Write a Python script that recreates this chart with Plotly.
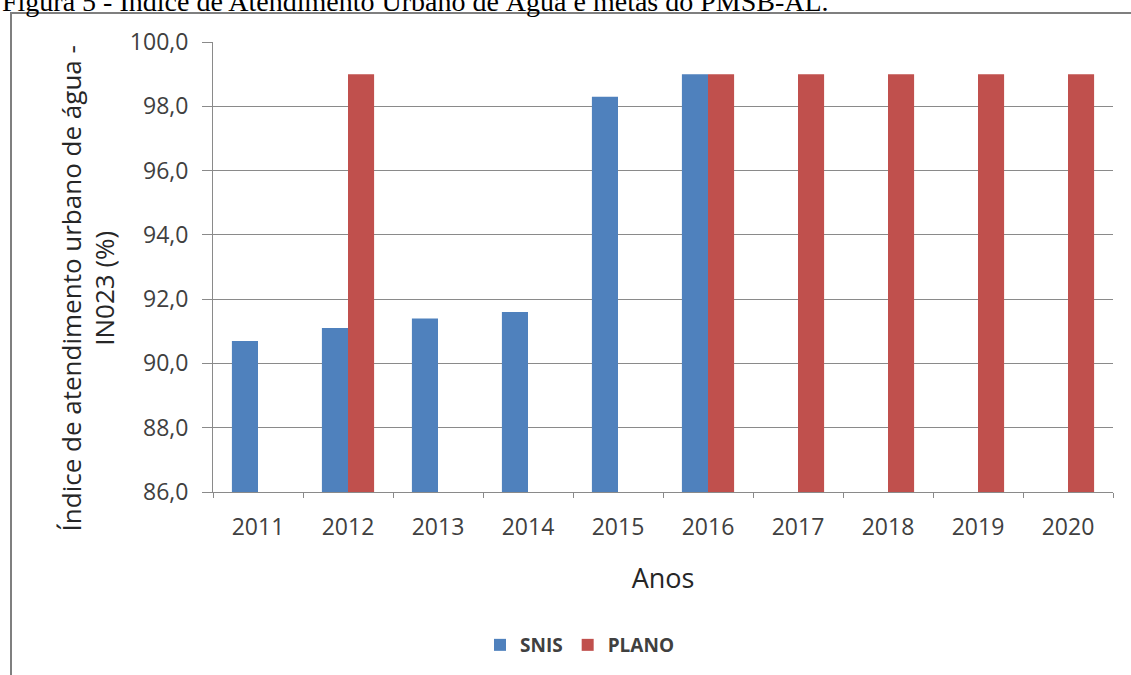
import plotly.graph_objects as go

# Anos e séries
anos = ["2011", "2012", "2013", "2014", "2015", "2016", "2017", "2018", "2019", "2020"]
snis = [90.7, 91.1, 91.4, 91.6, 98.3, 99.0, None, None, None, None]
plano = [None, 99.0, None, None, None, 99.0, 99.0, 99.0, 99.0, 99.0]
y_ticks = [86, 88, 90, 92, 94, 96, 98, 100]

W, H = 1131, 675
ML, MR, MT, MB = 213, 18, 42, 182
PW, PH = W - ML - MR, H - MT - MB


def px_x(px):
    return (px - ML) / PW


def px_y(py):
    return (H - MB - py) / PH


GRID = "#8a8a8a"
FONT = "Open Sans"

fig = go.Figure()
fig.add_trace(go.Bar(x=anos, y=snis, name="SNIS", marker=dict(color="#4F81BD", line=dict(width=0))))
fig.add_trace(go.Bar(x=anos, y=plano, name="PLANO", marker=dict(color="#C0504D", line=dict(width=0))))

fig.update_layout(
    width=W, height=H,
    margin=dict(l=ML, r=MR, t=MT, b=MB, pad=0),
    paper_bgcolor="white", plot_bgcolor="white",
    barmode="group", bargap=0.42, bargroupgap=0,
    separators=",.",
    font=dict(family=FONT, color="#404040"),
    showlegend=True,
    legend=dict(orientation="h", x=px_x(580), xanchor="center", y=px_y(645), yanchor="middle",
                font=dict(size=19, color="#404040", family=FONT, weight="bold"),
                itemwidth=30, tracegroupgap=0),
)

fig.update_xaxes(
    type="category", showgrid=False, showline=True, linecolor=GRID, linewidth=1,
    ticks="outside", tickson="boundaries", ticklen=5, tickcolor=GRID,
    tickfont=dict(size=23, color="#404040"), ticklabelstandoff=14,
    title=dict(text="Anos", font=dict(size=27, color="#262626"), standoff=28),
)
fig.update_yaxes(
    range=[86, 100], tickvals=y_ticks, tickformat=".1f",
    showgrid=True, gridcolor=GRID, gridwidth=1,
    showline=True, linecolor=GRID, linewidth=1,
    ticks="outside", ticklen=10, tickcolor=GRID,
    tickfont=dict(size=23, color="#404040"), ticklabelstandoff=9,
    zeroline=False,
)

# Título do eixo vertical (duas linhas)
fig.add_annotation(
    text="Índice de atendimento urbano de água -<br>IN023 (%)",
    xref="paper", yref="paper", x=px_x(88), y=px_y(289),
    xanchor="center", yanchor="middle", textangle=-90, showarrow=False,
    font=dict(size=26, color="#262626", family=FONT),
)

# Legenda da figura
fig.add_annotation(
    text="Figura 5 - Índice de Atendimento Urbano de Água e metas do PMSB-AL.",
    xref="paper", yref="paper", x=px_x(0), y=px_y(12),
    xanchor="left", yanchor="bottom", yshift=-7, showarrow=False,
    font=dict(size=28, color="black", family="Liberation Serif"),
)

# Moldura
fig.add_shape(type="rect", xref="paper", yref="paper",
              x0=px_x(11), x1=px_x(1200), y0=px_y(740), y1=px_y(13),
              line=dict(color="#7f7f7f", width=2), fillcolor="rgba(0,0,0,0)", layer="below")

fig.write_html("out.html")
